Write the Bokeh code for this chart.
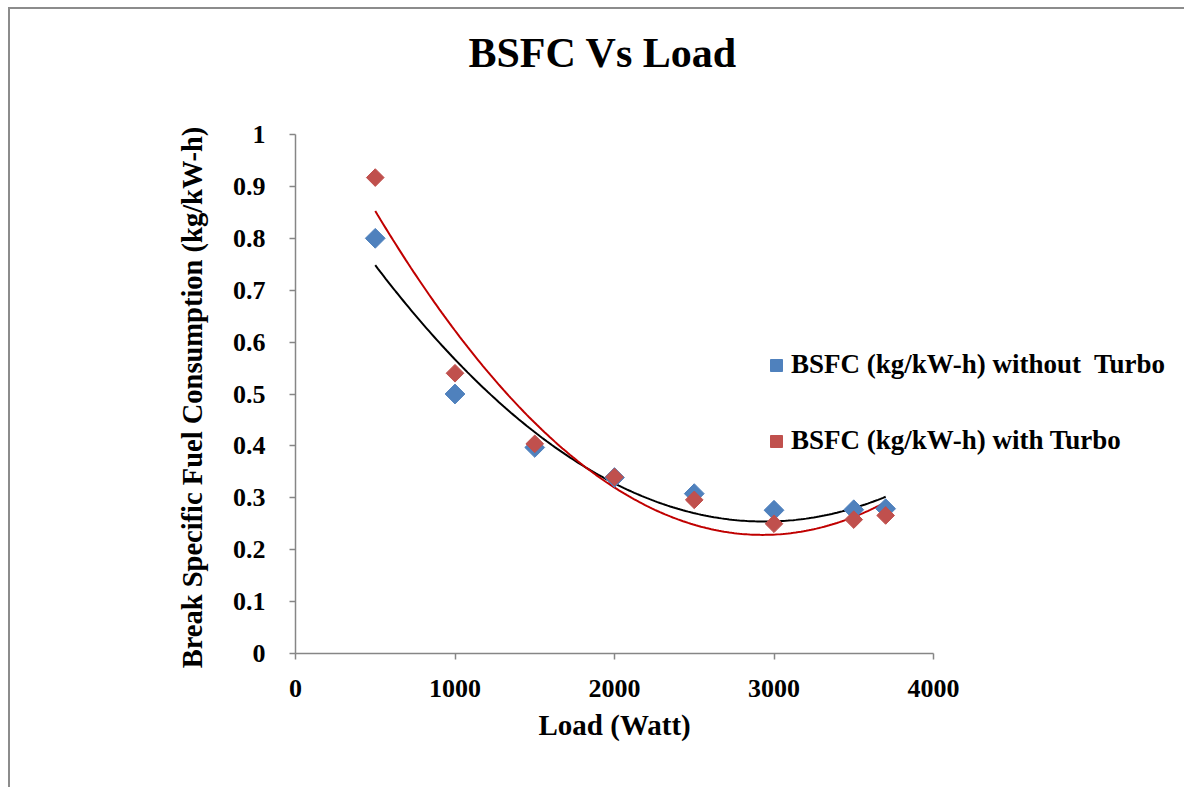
import numpy as np
from bokeh.plotting import figure
from bokeh.models import Range1d, Legend, LegendItem, Title, FixedTicker
from bokeh.embed import file_html
from bokeh.resources import INLINE

load = [500, 1000, 1500, 2000, 2500, 3000, 3500, 3700]
bsfc_without = [0.80, 0.50, 0.397, 0.339, 0.308, 0.276, 0.277, 0.279]
bsfc_with = [0.917, 0.54, 0.404, 0.340, 0.296, 0.25, 0.258, 0.266]
x_ticks = [0, 1000, 2000, 3000, 4000]
y_ticks = [0, 0.1, 0.2, 0.3, 0.4, 0.5, 0.6, 0.7, 0.8, 0.9, 1]
label_without = "BSFC (kg/kW-h) without  Turbo"
label_with = "BSFC (kg/kW-h) with Turbo"
title_text = "BSFC Vs Load"
x_label = "Load (Watt)"
y_label = "Break Specific Fuel Consumption  (kg/kW-h)"

FONT = "Liberation Serif"
AXIS_COLOR = "#868686"

# layout geometry (pixels)
W, H = 1176, 780
ML, MR, MT, MB = 285, 5, 125, 136
AXIS_PX = 638          # pixel length of 0..4000 on the x axis
X_AXIS_MAX = 4000
frame_w = W - ML - MR
x_view_max = X_AXIS_MAX * frame_w / AXIS_PX   # frame extends right to hold the legend

p = figure(width=W, height=H, output_backend="svg", toolbar_location=None,
           x_range=Range1d(0, x_view_max), y_range=Range1d(0, 1),
           min_border_left=ML, min_border_right=MR, min_border_top=MT, min_border_bottom=MB)
p.styles = {"margin-left": "8px", "margin-top": "7px",
            "border-left": "2px solid #8c8c8c", "border-top": "2px solid #8c8c8c"}
p.outline_line_color = None
p.background_fill_color = "white"
p.border_fill_color = "white"
p.xgrid.visible = False
p.ygrid.visible = False

# spacer between frame and title, then the title itself
p.add_layout(Title(text=" ", text_font_size="10px", standoff=46, text_color="white"), "above")
p.add_layout(Title(text=title_text, align="left", offset=(603 - 295) - 135, text_font=FONT,
                   text_font_size="42px", text_font_style="bold", text_color="black",
                   standoff=0), "above")

# trendlines (2nd order polynomial fit)
xs = np.linspace(min(load), max(load), 200)
c1 = np.polyfit(load, bsfc_without, 2)
c2 = np.polyfit(load, bsfc_with, 2)
p.line(xs, np.polyval(c1, xs), line_color="black", line_width=2)
p.line(xs, np.polyval(c2, xs), line_color="#C00000", line_width=2)

r1 = p.scatter(load, bsfc_without, marker="square", angle=np.pi / 4, size=14,
               fill_color="#4F81BD", line_color="#4F81BD")
r2 = p.scatter(load, bsfc_with, marker="square", angle=np.pi / 4, size=12.5,
               fill_color="#C0504D", line_color="#C0504D")

legend = Legend(items=[LegendItem(label=label_without, renderers=[r1]),
                       LegendItem(label=label_with, renderers=[r2])],
                location=(466, 197), glyph_width=30, glyph_height=30,
                label_height=30, spacing=45, label_standoff=0, padding=0, margin=0,
                label_text_font=FONT, label_text_font_size="27px", label_text_font_style="bold",
                label_text_color="black", background_fill_alpha=0, border_line_color=None)
p.add_layout(legend, "center")

for ax in (p.xaxis[0], p.yaxis[0]):
    ax.axis_line_color = AXIS_COLOR
    ax.axis_line_width = 1.5
    ax.major_tick_line_color = AXIS_COLOR
    ax.major_tick_line_width = 1.5
    ax.major_tick_out = 6
    ax.major_tick_in = 0
    ax.minor_tick_line_color = None
    ax.major_label_text_font = FONT
    ax.major_label_text_font_size = "26px"
    ax.major_label_text_font_style = "bold"
    ax.major_label_text_color = "black"
    ax.axis_label_text_font = FONT
    ax.axis_label_text_font_style = "bold"
    ax.axis_label_text_color = "black"

p.xaxis.bounds = (0, X_AXIS_MAX)
p.xaxis.ticker = FixedTicker(ticks=x_ticks)
p.yaxis.ticker = FixedTicker(ticks=y_ticks)
p.yaxis.major_label_overrides = {t: f"{t:g}" for t in y_ticks}
p.xaxis.major_label_overrides = {t: f"{t:g}" for t in x_ticks}
p.yaxis.axis_label = y_label
p.yaxis.axis_label_text_font_size = "28.5px"
p.xaxis.major_label_standoff = 20
p.yaxis.major_label_standoff = 24
p.yaxis.axis_label_standoff = 22

# x axis title, centred under the 0..4000 axis (frame extends further right)
p.add_layout(Title(text=x_label, align="left", offset=(614 - 295) - 76, text_font=FONT,
                   text_font_size="29px", text_font_style="bold", text_color="black",
                   standoff=14), "below")

open("out.html", "w").write(file_html(p, INLINE))
